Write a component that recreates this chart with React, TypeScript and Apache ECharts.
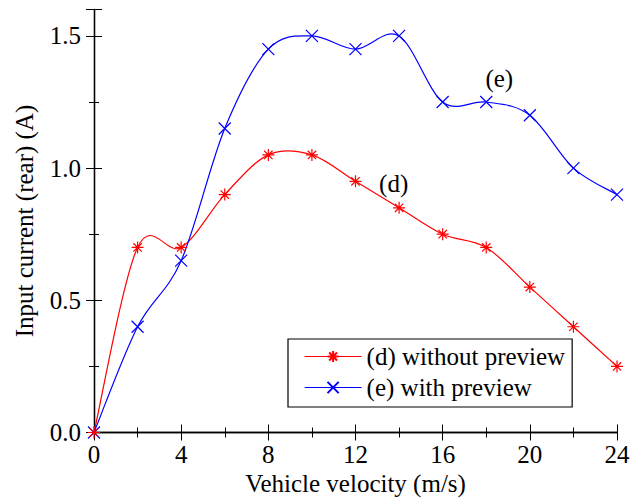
import React, { useEffect, useRef } from "react";
import * as echarts from "echarts";

const velocities = [0, 2, 4, 6, 8, 10, 12, 14, 16, 18, 20, 22, 24];
const withoutPreview = [0, 0.7, 0.7, 0.9, 1.05, 1.05, 0.95, 0.85, 0.75, 0.7, 0.55, 0.4, 0.25];
const withPreview = [0, 0.4, 0.65, 1.15, 1.45, 1.5, 1.45, 1.5, 1.25, 1.25, 1.2, 1.0, 0.9];
const seriesNames = ["(d) without preview", "(e) with preview"];

const FONT = "Liberation Serif";
const RED = "#ff0000";
const BLUE = "#0000ff";
const asterisk = "path://M6 0 L6 12 M0 6 L12 6 M1.8 1.8 L10.2 10.2 M10.2 1.8 L1.8 10.2";
const cross = "path://M0 0 L12 12 M12 0 L0 12";

// Draws a smooth (Catmull-Rom) curve through the data points, segment by segment,
// using the chart's own coordinate conversion.
function splineSeries(name: string, xs: number[], ys: number[], color: string) {
  const n = xs.length;
  return {
    name,
    type: "custom",
    coordinateSystem: "cartesian2d",
    silent: true,
    z: 1,
    data: xs.map((x, i) => [x, ys[i]]),
    encode: { x: 0, y: 1 },
    renderItem: (params: any, api: any) => {
      const i = params.dataIndex;
      if (i >= n - 1) return null;
      const P = (k: number) => {
        const c = Math.max(0, Math.min(n - 1, k));
        return api.coord([xs[c], ys[c]]);
      };
      const p0 = P(i - 1);
      const p1 = P(i);
      const p2 = P(i + 1);
      const p3 = P(i + 2);
      return {
        type: "bezierCurve",
        shape: {
          x1: p1[0],
          y1: p1[1],
          x2: p2[0],
          y2: p2[1],
          cpx1: p1[0] + (p2[0] - p0[0]) / 6,
          cpy1: p1[1] + (p2[1] - p0[1]) / 6,
          cpx2: p2[0] - (p3[0] - p1[0]) / 6,
          cpy2: p2[1] - (p3[1] - p1[1]) / 6,
        },
        style: { stroke: color, lineWidth: 1.2, fill: "none" },
      };
    },
  };
}

export default function App() {
  const ref = useRef<HTMLDivElement>(null);
  useEffect(() => {
    const chart = echarts.init(ref.current!, null, { renderer: "svg" });
    const axisLine = { show: true, lineStyle: { color: "#000", width: 1.3 } };
    const tick = { inside: true, length: 8, lineStyle: { color: "#000" } };
    const minor = { show: true, splitNumber: 2, length: 5, lineStyle: { color: "#000" } };
    const txt = { fontFamily: FONT, fontSize: 25, color: "#000" };
    chart.setOption({
      animation: false,
      backgroundColor: "#fff",
      textStyle: { fontFamily: FONT },
      grid: { left: 94, right: 14, top: 9.5, bottom: 67.5, containLabel: false, outerBoundsMode: "none" },
      legend: {
        orient: "vertical",
        left: 288,
        top: 339,
        borderColor: "#000",
        borderWidth: 1.2,
        padding: [5, 7, 7, 16],
        itemGap: 6,
        itemWidth: 57,
        itemHeight: 14,
        textStyle: txt,
        data: [
          { name: seriesNames[0], lineStyle: { color: RED, width: 1.2, opacity: 1 } },
          { name: seriesNames[1], lineStyle: { color: BLUE, width: 1.2, opacity: 1 } },
        ],
      },
      xAxis: [
        {
          type: "value",
          min: 0,
          max: 24,
          interval: 4,
          name: "Vehicle velocity (m/s)",
          nameLocation: "middle",
          nameGap: 38,
          nameTextStyle: txt,
          axisLine,
          axisTick: tick,
          minorTick: minor,
          axisLabel: { ...txt, margin: 9 },
          splitLine: { show: false },
        },
        {
          type: "value",
          position: "top",
          min: 0,
          max: 24,
          interval: 4,
          axisLine,
          axisTick: tick,
          minorTick: minor,
          axisLabel: { show: false },
          splitLine: { show: false },
        },
      ],
      yAxis: [
        {
          type: "value",
          min: 0,
          max: 1.6,
          interval: 0.5,
          name: "Input current (rear) (A)",
          nameLocation: "middle",
          nameGap: 57,
          nameTextStyle: txt,
          axisLine,
          axisTick: tick,
          minorTick: minor,
          axisLabel: {
            ...txt,
            margin: 13,
            formatter: (v: number) => v.toFixed(1),
            showMaxLabel: false,
          },
          splitLine: { show: false },
        },
        {
          type: "value",
          position: "right",
          min: 0,
          max: 1.6,
          interval: 0.5,
          axisLine,
          axisTick: tick,
          minorTick: minor,
          axisLabel: { show: false },
          splitLine: { show: false },
        },
      ],
      series: [
        splineSeries("curve-d", velocities, withoutPreview, RED),
        splineSeries("curve-e", velocities, withPreview, BLUE),
        {
          name: seriesNames[0],
          type: "line",
          data: velocities.map((v, i) => [v, withoutPreview[i]]),
          lineStyle: { color: RED, width: 1.2, opacity: 0 },
          symbol: asterisk,
          symbolSize: 12,
          itemStyle: { color: "none", borderColor: RED, borderWidth: 1.2 },
          markPoint: {
            symbol: "circle",
            symbolSize: 1,
            itemStyle: { color: "transparent", borderWidth: 0 },
            label: { show: true, position: "inside", ...txt, formatter: "(d)" },
            data: [{ coord: [13.75, 0.94] }],
          },
          z: 3,
        },
        {
          name: seriesNames[1],
          type: "line",
          data: velocities.map((v, i) => [v, withPreview[i]]),
          lineStyle: { color: BLUE, width: 1.2, opacity: 0 },
          symbol: cross,
          symbolSize: 12,
          itemStyle: { color: "none", borderColor: BLUE, borderWidth: 1.2 },
          markPoint: {
            symbol: "circle",
            symbolSize: 1,
            itemStyle: { color: "transparent", borderWidth: 0 },
            label: { show: true, position: "inside", ...txt, formatter: "(e)" },
            data: [{ coord: [18.6, 1.34] }],
          },
          z: 2,
        },
      ],
    });
    return () => chart.dispose();
  }, []);
  return (
    <div
      ref={ref}
      style={{ position: "absolute", left: 0, top: 0, width: 631, height: 500 }}
    />
  );
}
